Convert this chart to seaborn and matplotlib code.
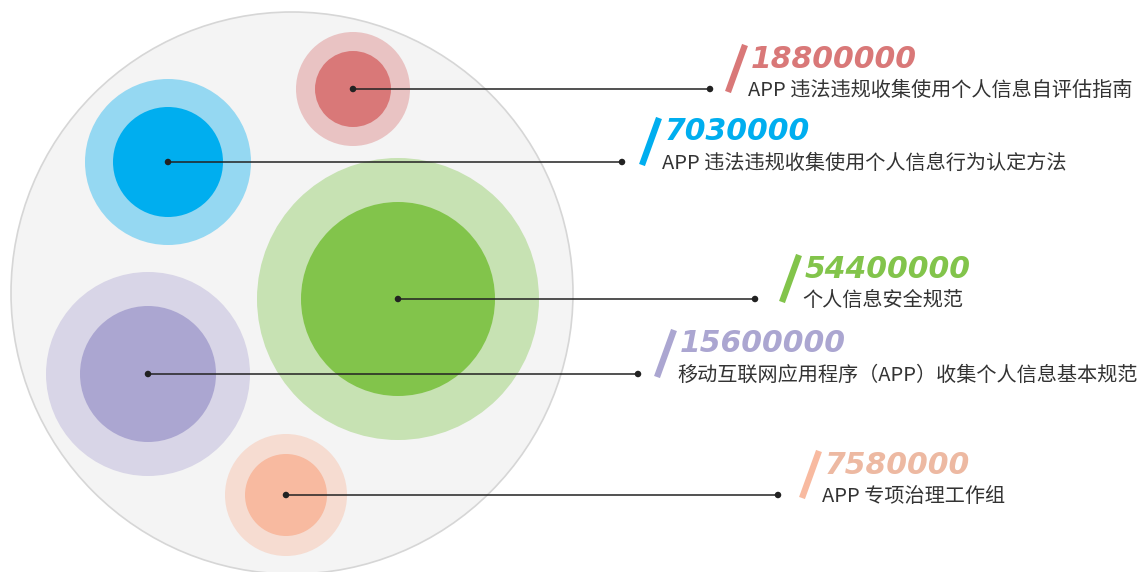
import matplotlib
matplotlib.use("Agg")
import matplotlib.pyplot as plt
from matplotlib.patches import Circle
import pandas as pd
import seaborn as sns

# data
names = [
    "APP 违法违规收集使用个人信息自评估指南",
    "APP 违法违规收集使用个人信息行为认定方法",
    "个人信息安全规范",
    "移动互联网应用程序（APP）收集个人信息基本规范",
    "APP 专项治理工作组",
]
values = [18800000, 7030000, 54400000, 15600000, 7580000]

# layout (pixels, y down)
cx = [353, 168, 398, 148, 286]
cy = [89, 162, 299, 374, 495]
r_inner = [38, 55, 97, 68, 41]
r_outer = [57, 83, 141, 102, 61]
line_end = [710, 622, 755, 638, 778]
label_x = [748, 662, 802, 677, 822]

inner_colors = ["#D97878", "#00AEEF", "#82C44B", "#ABA6D1", "#F8BAA0"]
outer_colors = ["#E9C3C3", "#95D8F2", "#C7E2B3", "#D8D5E7", "#F6DCD1"]
num_colors = ["#D97878", "#00AEEF", "#82C44B", "#ABA6D1", "#EDB9A2"]

sns.set_theme(style="white")
plt.rcParams["font.family"] = ["Noto Sans CJK SC", "DejaVu Sans"]

fig = plt.figure(figsize=(11.42, 5.72), dpi=100)
ax = fig.add_axes([0, 0, 1, 1])

# container circle
ax.add_patch(Circle((292, 293), 281, facecolor="#F4F4F4", edgecolor="#D6D6D6", lw=1.2, zorder=0))

for i in range(len(values)):
    ax.add_patch(Circle((cx[i], cy[i]), r_outer[i], facecolor=outer_colors[i], edgecolor="none", zorder=1))
    ax.add_patch(Circle((cx[i], cy[i]), r_inner[i], facecolor=inner_colors[i], edgecolor="none", zorder=2))
    ax.plot([cx[i], line_end[i]], [cy[i], cy[i]], color="#222222", lw=1.1, zorder=3)

    # slash
    lx = label_x[i]
    ax.plot([lx - 3, lx - 20], [cy[i] - 44, cy[i] + 3], color=inner_colors[i],
            lw=4.5, solid_capstyle="butt", zorder=3)
    ax.text(lx + 3, cy[i] - 30, f"{values[i]}", color=num_colors[i], fontsize=21.5,
            fontweight="bold", fontstyle="italic", family="DejaVu Sans",
            ha="left", va="center", zorder=4)
    ax.text(lx, cy[i] + 1, names[i], color="#333333", fontsize=14.5,
            ha="left", va="center", zorder=4)

dots = pd.DataFrame({"x": cx + line_end, "y": cy + cy})
sns.scatterplot(data=dots, x="x", y="y", ax=ax, color="#222222", s=22,
                edgecolor="none", zorder=5, legend=False)
ax.set_xlim(0, 1142)
ax.set_ylim(572, 0)
ax.axis("off")

fig.savefig("out.png", dpi=100)
